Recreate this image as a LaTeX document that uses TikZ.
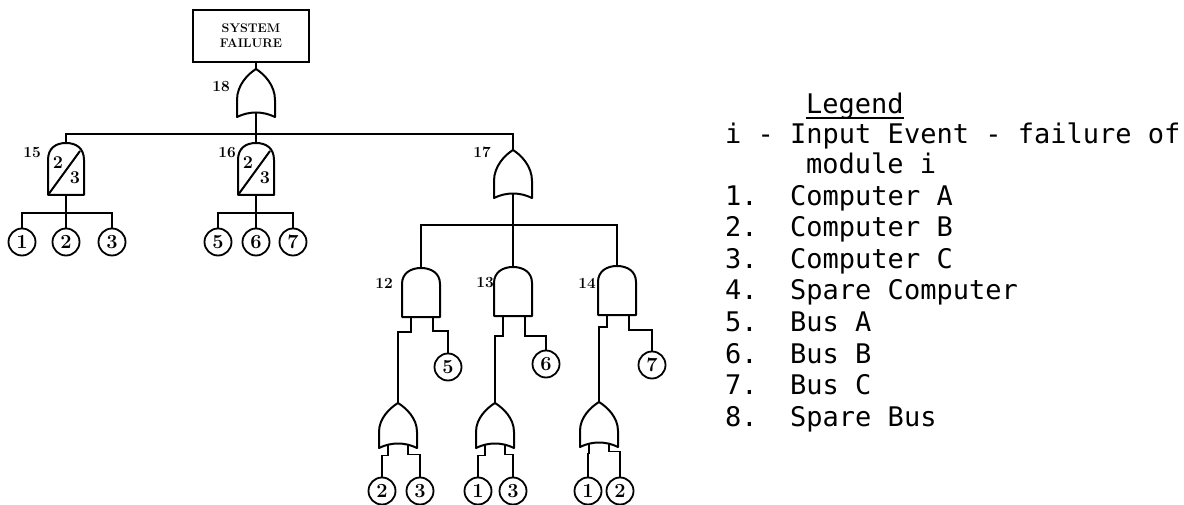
\documentclass[tikz,border=0pt]{standalone}
\usepackage{fontspec}
\newfontfamily\legfont{DejaVu Sans Mono}
\tikzset{
  gate/.style={line width=2pt, line join=round},
  wire/.style={line width=1.9pt},
  glabel/.style={font=\bfseries\fontsize{15.5}{15.5}\selectfont, inner sep=0pt},
  vlabel/.style={font=\bfseries\fontsize{18}{18}\selectfont, inner sep=0pt},
  evt/.style={circle, draw, line width=1.8pt, minimum size=27pt, inner sep=0pt, font=\bfseries\fontsize{20}{20}\selectfont},
  leg/.style={font=\legfont\fontsize{27}{27}\selectfont, inner sep=0pt, anchor=base west},
  orA/.pic={
    \draw[gate] (-19,0) -- (-19,-17) .. controls (-19,-32) and (-8,-43) .. (0,-48)
      .. controls (8,-43) and (19,-32) .. (19,-17) -- (19,0)
      .. controls (7,-6) and (-7,-6) .. cycle;
    \coordinate (-top) at (0,-48);
    \coordinate (-out) at (0,-4.5);
  },
  orB/.pic={
    \draw[gate] (-19,0) -- (-19,-16) .. controls (-19,-30) and (-8,-40) .. (0,-45)
      .. controls (8,-40) and (19,-30) .. (19,-16) -- (19,0)
      .. controls (7,-6) and (-7,-6) .. cycle;
    \coordinate (-top) at (0,-45);
    \coordinate (-l) at (-10,-3.5);
    \coordinate (-r) at (10,-3.5);
  },
  andgate/.pic={
    \draw[gate] (-19,0) -- (-19,-33) .. controls (-19,-44) and (-10,-49) .. (0,-49)
      .. controls (10,-49) and (19,-44) .. (19,-33) -- (19,0) -- cycle;
    \coordinate (-top) at (0,-49);
    \coordinate (-l) at (-10,0);
    \coordinate (-r) at (12,0);
  },
  votegate/.pic={
    \draw[gate] (-18,0) -- (-18,-35) .. controls (-18,-47) and (-10,-52) .. (0,-52)
      .. controls (10,-52) and (18,-47) .. (18,-35) -- (18,0) -- cycle;
    \draw[gate] (-18,0) -- (14,-44);
    \node[vlabel] (-two) at (-8,-32) {2};
    \node[vlabel] (-three) at (9,-17) {3};
    \coordinate (-top) at (0,-52);
    \coordinate (-bot) at (0,0);
  }
}
\begin{document}
\begin{tikzpicture}[x=1pt,y=-1pt]
\useasboundingbox (0,0) rectangle (1184,505);

% top event
\node[draw, line width=2pt, minimum width=116pt, minimum height=52pt, inner sep=0pt,
      align=center, font=\bfseries\fontsize{12.5}{15}\selectfont] (sf) at (251,36) {SYSTEM\\FAILURE};

% gates
\pic (g18) at (256,117) {orA};
\pic (g15) at (66,195) {votegate};
\pic (g16) at (256,195) {votegate};
\pic (g17) at (513,198) {orA};
\pic (g12) at (421,317) {andgate};
\pic (g13) at (513,316) {andgate};
\pic (g14) at (617,315) {andgate};
\pic (o12) at (398,448) {orB};
\pic (o13) at (495,448) {orB};
\pic (o14) at (599,447) {orB};

% gate numbers
\node[glabel] (n18) at (221,87) {18};
\node[glabel] (n15) at (32,153) {15};
\node[glabel] (n16) at (227,153) {16};
\node[glabel] (n17) at (482,152) {17};
\node[glabel] (n12) at (384,283) {12};
\node[glabel] (n13) at (485,283) {13};
\node[glabel] (n14) at (587,283) {14};

% basic events
\node[evt] (a1) at (22,242) {1};
\node[evt] (a2) at (66,242) {2};
\node[evt] (a3) at (112,242) {3};
\node[evt] (b5) at (218,242) {5};
\node[evt] (b6) at (256,242) {6};
\node[evt] (b7) at (293,242) {7};
\node[evt] (c5) at (448,367) {5};
\node[evt] (c6) at (546,364) {6};
\node[evt] (c7) at (652,365) {7};
\node[evt] (d2) at (382,491) {2};
\node[evt] (d3) at (420,491) {3};
\node[evt] (e1) at (478,491) {1};
\node[evt] (e3) at (513,491) {3};
\node[evt] (f1) at (588,491) {1};
\node[evt] (f2) at (620,491) {2};

% bus points
\coordinate (bus) at (256,134);
\coordinate (b15) at (66,213);
\coordinate (b16) at (256,213);
\coordinate (b17) at (513,225);

% connectors
\draw[wire] (g18-top) -- (g18-top |- sf.south);
\draw[wire] (g18-out) -- (g16-top);
\draw[wire] (g15-top) |- (bus) -| (g17-top);
\draw[wire] (g15-bot) -- (a2.north);
\draw[wire] (a1.north) |- (b15) -| (a3.north);
\draw[wire] (g16-bot) -- (b6.north);
\draw[wire] (b5.north) |- (b16) -| (b7.north);
\draw[wire] (g17-out) -- (g13-top);
\draw[wire] (g12-top) |- (b17) -| (g14-top);

\draw[wire] (g12-l) -- ++(0,15) -| (o12-top);
\draw[wire] (g12-r) -- ++(0,14) -| (c5.north);
\draw[wire] (g13-l) -- ++(0,20) -| (o13-top);
\draw[wire] (g13-r) -- ++(0,20) -| (c6.north);
\draw[wire] (g14-l) -- ++(0,12) -| (o14-top);
\draw[wire] (g14-r) -- ++(0,15) -| (c7.north);

\draw[wire] (o12-l) -- ++(0,11) -| (d2.north);
\draw[wire] (o12-r) -- ++(0,10) -| (d3.north);
\draw[wire] (o13-l) -- ++(0,11) -| (e1.north);
\draw[wire] (o13-r) -- ++(0,10) -| (e3.north);
\draw[wire] (o14-l) -- ++(0,10) -| (f1.north);
\draw[wire] (o14-r) -- ++(0,8) -| (f2.north);

% legend
\node[leg] (lg) at (806,114) {Legend};
\draw[line width=1.5pt] ([yshift=-4pt]lg.base west) -- ([yshift=-4pt]lg.base east);
\node[leg] (l0) at (725,144) {i - Input Event - failure of};
\node[leg] (l0b) at (806,174) {module i};
\node[leg] (l1) at (725,205.5) {1.~~Computer~A};
\node[leg] (l2) at (725,237) {2.~~Computer~B};
\node[leg] (l3) at (725,268.5) {3.~~Computer~C};
\node[leg] (l4) at (725,300) {4.~~Spare~Computer};
\node[leg] (l5) at (725,331.5) {5.~~Bus~A};
\node[leg] (l6) at (725,363) {6.~~Bus~B};
\node[leg] (l7) at (725,394.5) {7.~~Bus~C};
\node[leg] (l8) at (725,426) {8.~~Spare~Bus};
\end{tikzpicture}
\end{document}
